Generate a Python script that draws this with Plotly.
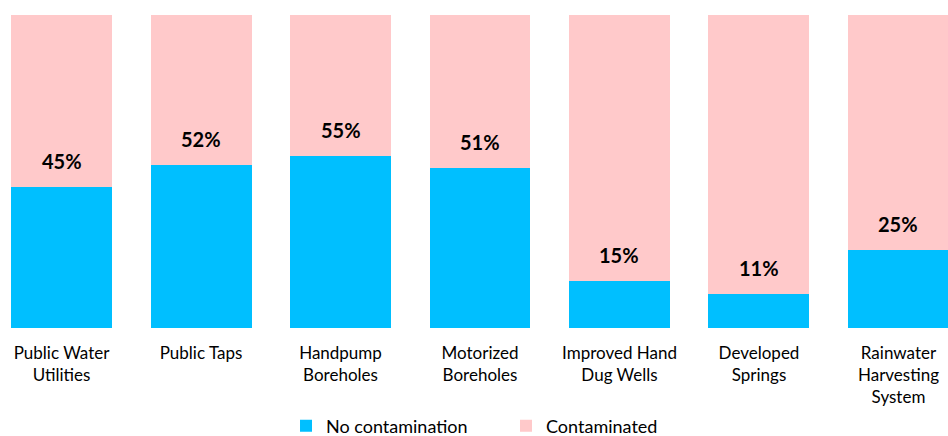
import plotly.graph_objects as go

categories = ["Public Water<br>Utilities", "Public Taps", "Handpump<br>Boreholes",
              "Motorized<br>Boreholes", "Improved Hand<br>Dug Wells", "Developed<br>Springs",
              "Rainwater<br>Harvesting<br>System"]
no_contamination = [45, 52, 55, 51, 15, 11, 25]
contaminated = [100 - v for v in no_contamination]

BLUE = "#00BFFF"
PINK = "#FFC9CA"

fig = go.Figure()
fig.add_trace(go.Bar(x=categories, y=no_contamination, name="No contamination",
                     marker_color=BLUE, marker_line_width=0, width=0.724, hoverinfo="skip"))
fig.add_trace(go.Bar(x=categories, y=contaminated, name="Contaminated",
                     marker_color=PINK, marker_line_width=0, width=0.724, hoverinfo="skip"))

for c, v in zip(categories, no_contamination):
    fig.add_annotation(x=c, y=v, text=f"<b>{v}%</b>", showarrow=False, yshift=26,
                       font=dict(family="Lato, sans-serif", size=20, color="#000000"))

fig.update_layout(
    barmode="stack",
    width=948, height=436,
    margin=dict(l=0, r=0, t=15, b=108, autoexpand=False),
    plot_bgcolor="white", paper_bgcolor="white",
    xaxis=dict(range=[-0.441, 6.355], showgrid=False, zeroline=False, showline=False,
               ticks="", tickfont=dict(family="Lato, sans-serif", size=17, color="#000000"),
               ticklabelstandoff=13, tickangle=0, automargin=False),
    yaxis=dict(range=[0, 100], visible=False),
    showlegend=True,
    legend=dict(orientation="h", xref="paper", x=0.3017, xanchor="left",
                yref="container", y=10 / 436, yanchor="middle",
                font=dict(family="Lato, sans-serif", size=18, color="#000000"),
                traceorder="normal", itemwidth=30, entrywidth=175),
)

fig.write_html("out.html", config={"displayModeBar": False},
               post_script="document.body.style.margin='0';")
